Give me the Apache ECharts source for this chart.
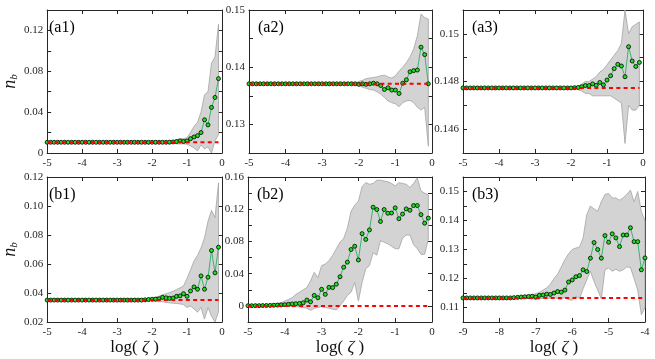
<!DOCTYPE html>
<html>
<head>
<meta charset="utf-8">
<script src="https://cdn.jsdelivr.net/npm/echarts@6/dist/echarts.min.js"></script>
<style>
  html, body { margin: 0; padding: 0; background: #fff; }
  #chart { width: 655px; height: 359px; }
</style>
</head>
<body>
<div id="chart"></div>
<script>
// x positions, log(zeta)
var logZeta = [-5.0, -4.9, -4.8, -4.7, -4.6, -4.5, -4.4, -4.3, -4.2, -4.1,
  -4.0, -3.9, -3.8, -3.7, -3.6, -3.5, -3.4, -3.3, -3.2, -3.1,
  -3.0, -2.9, -2.8, -2.7, -2.6, -2.5, -2.4, -2.3, -2.2, -2.1,
  -2.0, -1.9, -1.8, -1.7, -1.6, -1.5, -1.4, -1.3, -1.2, -1.1,
  -1.0, -0.9, -0.8, -0.7, -0.6, -0.5, -0.4, -0.3, -0.2, -0.1]
var logZetaB3 = [-9.0, -8.9, -8.8, -8.7, -8.6, -8.5, -8.4, -8.3, -8.2, -8.1,
  -8.0, -7.9, -7.8, -7.7, -7.6, -7.5, -7.4, -7.3, -7.2, -7.1,
  -7.0, -6.9, -6.8, -6.7, -6.6, -6.5, -6.4, -6.3, -6.2, -6.1,
  -6.0, -5.9, -5.8, -5.7, -5.6, -5.5, -5.4, -5.3, -5.2, -5.1,
  -5.0, -4.9, -4.8, -4.7, -4.6, -4.5, -4.4, -4.3, -4.2, -4.1, -4.0]

// (a1)
var a1Base = 0.0105
var a1Mean = [0.0105, 0.0105, 0.0105, 0.0105, 0.0105, 0.0105, 0.0105, 0.0105, 0.0105, 0.0105,
  0.0105, 0.0105, 0.0105, 0.0105, 0.0105, 0.0105, 0.0105, 0.0105, 0.0105, 0.0105,
  0.0105, 0.0105, 0.0105, 0.0105, 0.0105, 0.0105, 0.0105, 0.0105, 0.0105, 0.0105,
  0.0105, 0.0105, 0.0105, 0.0105, 0.0105, 0.0106, 0.0108, 0.0112, 0.0118, 0.0113,
  0.0118, 0.0140, 0.0157, 0.0170, 0.0200, 0.0325, 0.0275, 0.0446, 0.0544, 0.0728]
var a1Upper = [0.0105, 0.0105, 0.0105, 0.0105, 0.0105, 0.0105, 0.0105, 0.0105, 0.0105, 0.0105,
  0.0105, 0.0105, 0.0105, 0.0105, 0.0105, 0.0105, 0.0105, 0.0105, 0.0105, 0.0105,
  0.0105, 0.0105, 0.0105, 0.0105, 0.0105, 0.0105, 0.0105, 0.0105, 0.0105, 0.0105,
  0.0105, 0.0105, 0.0105, 0.0105, 0.0108, 0.0112, 0.0120, 0.0130, 0.0140, 0.0140,
  0.0150, 0.0200, 0.0260, 0.0300, 0.0400, 0.0570, 0.0600, 0.0880, 0.0940, 0.1260]
var a1Lower = [0.0105, 0.0105, 0.0105, 0.0105, 0.0105, 0.0105, 0.0105, 0.0105, 0.0105, 0.0105,
  0.0105, 0.0105, 0.0105, 0.0105, 0.0105, 0.0105, 0.0105, 0.0105, 0.0105, 0.0105,
  0.0105, 0.0105, 0.0105, 0.0105, 0.0105, 0.0105, 0.0105, 0.0105, 0.0105, 0.0105,
  0.0105, 0.0105, 0.0105, 0.0105, 0.0102, 0.0098, 0.0095, 0.0090, 0.0088, 0.0090,
  0.0085, 0.0070, 0.0050, 0.0020, 0.0080, 0.0040, 0.0060, 0.0000, 0.0120, 0.0180]

// (a2)
var a2Base = 0.1371
var a2Mean = [0.1371, 0.1371, 0.1371, 0.1371, 0.1371, 0.1371, 0.1371, 0.1371, 0.1371, 0.1371,
  0.1371, 0.1371, 0.1371, 0.1371, 0.1371, 0.1371, 0.1371, 0.1371, 0.1371, 0.1371,
  0.1371, 0.1371, 0.1371, 0.1371, 0.1371, 0.1371, 0.1371, 0.1371, 0.1371, 0.1371,
  0.1370, 0.1371, 0.1370, 0.1371, 0.1372, 0.1371, 0.1368, 0.1361, 0.1364, 0.1360,
  0.1360, 0.1354, 0.1372, 0.1378, 0.1392, 0.1394, 0.1395, 0.1435, 0.1422, 0.1371]
var a2Upper = [0.1371, 0.1371, 0.1371, 0.1371, 0.1371, 0.1371, 0.1371, 0.1371, 0.1371, 0.1371,
  0.1371, 0.1371, 0.1371, 0.1371, 0.1371, 0.1371, 0.1371, 0.1371, 0.1371, 0.1371,
  0.1371, 0.1371, 0.1371, 0.1371, 0.1371, 0.1371, 0.1371, 0.1371, 0.1371, 0.1372,
  0.1375, 0.1377, 0.1380, 0.1381, 0.1382, 0.1383, 0.1385, 0.1386, 0.1383, 0.1381,
  0.1385, 0.1393, 0.1400, 0.1408, 0.1418, 0.1432, 0.1455, 0.1493, 0.1487, 0.1484]
var a2Lower = [0.1371, 0.1371, 0.1371, 0.1371, 0.1371, 0.1371, 0.1371, 0.1371, 0.1371, 0.1371,
  0.1371, 0.1371, 0.1371, 0.1371, 0.1371, 0.1371, 0.1371, 0.1371, 0.1371, 0.1371,
  0.1371, 0.1371, 0.1371, 0.1371, 0.1371, 0.1371, 0.1371, 0.1371, 0.1371, 0.1370,
  0.1368, 0.1365, 0.1363, 0.1361, 0.1360, 0.1357, 0.1353, 0.1347, 0.1341, 0.1338,
  0.1336, 0.1331, 0.1338, 0.1341, 0.1342, 0.1338, 0.1330, 0.1325, 0.1330, 0.1262]

// (a3)
var a3Base = 0.14773
var a3Mean = [0.14773, 0.14773, 0.14773, 0.14773, 0.14773, 0.14773, 0.14773, 0.14773, 0.14773, 0.14773,
  0.14773, 0.14773, 0.14773, 0.14773, 0.14773, 0.14773, 0.14773, 0.14773, 0.14773, 0.14773,
  0.14773, 0.14773, 0.14773, 0.14773, 0.14773, 0.14773, 0.14773, 0.14773, 0.14773, 0.14773,
  0.14773, 0.14774, 0.14775, 0.14778, 0.14783, 0.14783, 0.14790, 0.14784, 0.14796, 0.14786,
  0.14806, 0.14824, 0.14854, 0.14872, 0.14865, 0.14820, 0.14946, 0.14886, 0.14863, 0.14880]
var a3Upper = [0.14773, 0.14773, 0.14773, 0.14773, 0.14773, 0.14773, 0.14773, 0.14773, 0.14773, 0.14773,
  0.14773, 0.14773, 0.14773, 0.14773, 0.14773, 0.14773, 0.14773, 0.14773, 0.14773, 0.14773,
  0.14773, 0.14773, 0.14773, 0.14773, 0.14773, 0.14773, 0.14773, 0.14773, 0.14773, 0.14773,
  0.14773, 0.14776, 0.14780, 0.14790, 0.14800, 0.14800, 0.14810, 0.14820, 0.14840, 0.14850,
  0.14870, 0.14890, 0.14910, 0.14930, 0.14960, 0.15100, 0.15000, 0.15030, 0.15040, 0.15050]
var a3Lower = [0.14773, 0.14773, 0.14773, 0.14773, 0.14773, 0.14773, 0.14773, 0.14773, 0.14773, 0.14773,
  0.14773, 0.14773, 0.14773, 0.14773, 0.14773, 0.14773, 0.14773, 0.14773, 0.14773, 0.14773,
  0.14773, 0.14773, 0.14773, 0.14773, 0.14773, 0.14773, 0.14773, 0.14773, 0.14773, 0.14773,
  0.14773, 0.14770, 0.14765, 0.14760, 0.14750, 0.14750, 0.14740, 0.14740, 0.14740, 0.14740,
  0.14740, 0.14740, 0.14730, 0.14720, 0.14710, 0.14540, 0.14700, 0.14680, 0.14680, 0.14700]

// (b1)
var b1Base = 0.0351
var b1Mean = [0.0351, 0.0351, 0.0351, 0.0351, 0.0351, 0.0351, 0.0351, 0.0351, 0.0351, 0.0351,
  0.0351, 0.0351, 0.0351, 0.0351, 0.0351, 0.0351, 0.0351, 0.0351, 0.0351, 0.0351,
  0.0351, 0.0351, 0.0351, 0.0351, 0.0351, 0.0351, 0.0351, 0.0351, 0.0353, 0.0355,
  0.0357, 0.0358, 0.0360, 0.0370, 0.0367, 0.0363, 0.0365, 0.0377, 0.0380, 0.0395,
  0.0377, 0.0414, 0.0442, 0.0426, 0.0518, 0.0426, 0.0509, 0.0693, 0.0539, 0.0716]
var b1Upper = [0.0351, 0.0351, 0.0351, 0.0351, 0.0351, 0.0351, 0.0351, 0.0351, 0.0351, 0.0351,
  0.0351, 0.0351, 0.0351, 0.0351, 0.0351, 0.0351, 0.0351, 0.0351, 0.0351, 0.0351,
  0.0351, 0.0351, 0.0351, 0.0351, 0.0351, 0.0351, 0.0351, 0.0353, 0.0356, 0.0360,
  0.0365, 0.0370, 0.0378, 0.0388, 0.0395, 0.0403, 0.0412, 0.0425, 0.0435, 0.0450,
  0.0500, 0.0560, 0.0620, 0.0660, 0.0710, 0.0780, 0.0895, 0.0970, 0.0920, 0.1160]
var b1Lower = [0.0351, 0.0351, 0.0351, 0.0351, 0.0351, 0.0351, 0.0351, 0.0351, 0.0351, 0.0351,
  0.0351, 0.0351, 0.0351, 0.0351, 0.0351, 0.0351, 0.0351, 0.0351, 0.0351, 0.0351,
  0.0351, 0.0351, 0.0351, 0.0351, 0.0351, 0.0351, 0.0351, 0.0349, 0.0347, 0.0346,
  0.0345, 0.0342, 0.0340, 0.0340, 0.0335, 0.0332, 0.0330, 0.0328, 0.0325, 0.0320,
  0.0300, 0.0310, 0.0290, 0.0268, 0.0300, 0.0220, 0.0300, 0.0240, 0.0200, 0.0270]

// (b2)
var b2Base = 0
var b2Mean = [0.0002, 0.0002, 0.0003, 0.0003, 0.0004, 0.0005, 0.0006, 0.0008, 0.0010, 0.0012,
  0.0015, 0.0020, 0.0025, 0.0027, 0.0030, 0.0038, 0.0072, 0.0050, 0.0130, 0.0101,
  0.0206, 0.0143, 0.0230, 0.0227, 0.0269, 0.0362, 0.0480, 0.0543, 0.0700, 0.0740,
  0.0570, 0.0897, 0.0825, 0.0943, 0.1225, 0.1196, 0.1048, 0.1196, 0.1150, 0.1153,
  0.1217, 0.1082, 0.1140, 0.1204, 0.1187, 0.1246, 0.1246, 0.1133, 0.1027, 0.1090]
var b2Upper = [0.0005, 0.0006, 0.0008, 0.0010, 0.0012, 0.0015, 0.0020, 0.0025, 0.0030, 0.0040,
  0.0060, 0.0080, 0.0100, 0.0143, 0.0170, 0.0200, 0.0227, 0.0310, 0.0417, 0.0350,
  0.0500, 0.0520, 0.0560, 0.0627, 0.0710, 0.0790, 0.0838, 0.0964, 0.1175, 0.1250,
  0.1300, 0.1480, 0.1530, 0.1510, 0.1520, 0.1560, 0.1560, 0.1550, 0.1540, 0.1520,
  0.1490, 0.1530, 0.1520, 0.1510, 0.1470, 0.1520, 0.1590, 0.1427, 0.1400, 0.1377]
var b2Lower = [0.0000, 0.0000, -0.0001, -0.0001, -0.0002, -0.0002, -0.0003, -0.0004, -0.0004, -0.0005,
  -0.0006, -0.0008, -0.0010, -0.0010, -0.0015, -0.0020, -0.0030, -0.0055, -0.0030, -0.0020,
  -0.0010, -0.0020, -0.0030, -0.0040, -0.0050, 0.0000, 0.0060, 0.0130, 0.0170, 0.0290,
  0.0060, 0.0290, 0.0460, 0.0500, 0.0660, 0.0630, 0.0810, 0.0790, 0.0770, 0.0740,
  0.0710, 0.0710, 0.0840, 0.0880, 0.0880, 0.0760, 0.0710, 0.0640, 0.0640, 0.0830]

// (b3)
var b3Base = 0.1133
var b3Mean = [0.1133, 0.1133, 0.1133, 0.1133, 0.1133, 0.1133, 0.1133, 0.1133, 0.1133, 0.1133,
  0.1133, 0.1133, 0.1133, 0.1133, 0.1134, 0.1135, 0.1136, 0.1137, 0.1138, 0.1139,
  0.1136, 0.1142, 0.1143, 0.1146, 0.1145, 0.1150, 0.1155, 0.1153, 0.1160, 0.1188,
  0.1195, 0.1206, 0.1210, 0.1230, 0.1224, 0.1270, 0.1324, 0.1300, 0.1270, 0.1348,
  0.1325, 0.1354, 0.1340, 0.1310, 0.1350, 0.1350, 0.1375, 0.1327, 0.1327, 0.1230, 0.1271]
var b3Upper = [0.1133, 0.1133, 0.1133, 0.1133, 0.1133, 0.1133, 0.1133, 0.1133, 0.1133, 0.1133,
  0.1133, 0.1133, 0.1133, 0.1133, 0.1134, 0.1135, 0.1136, 0.1138, 0.1140, 0.1143,
  0.1148, 0.1152, 0.1160, 0.1168, 0.1180, 0.1200, 0.1215, 0.1240, 0.1265, 0.1285,
  0.1300, 0.1305, 0.1308, 0.1340, 0.1420, 0.1450, 0.1440, 0.1432, 0.1465, 0.1490,
  0.1493, 0.1478, 0.1478, 0.1470, 0.1478, 0.1490, 0.1505, 0.1465, 0.1500, 0.1430, 0.1400]
var b3Lower = [0.1133, 0.1133, 0.1133, 0.1133, 0.1133, 0.1133, 0.1133, 0.1133, 0.1133, 0.1133,
  0.1133, 0.1133, 0.1133, 0.1133, 0.1133, 0.1133, 0.1132, 0.1131, 0.1130, 0.1130,
  0.1128, 0.1130, 0.1132, 0.1131, 0.1133, 0.1135, 0.1130, 0.1128, 0.1135, 0.1128,
  0.1125, 0.1140, 0.1130, 0.1165, 0.1195, 0.1225, 0.1190, 0.1160, 0.1130, 0.1230,
  0.1236, 0.1225, 0.1232, 0.1225, 0.1230, 0.1240, 0.1238, 0.1200, 0.1160, 0.1075, 0.1100]

// tick labels
var xTicksA = ['-5', '-4', '-3', '-2', '-1', '0']
var xTicksB3 = ['-9', '-8', '-7', '-6', '-5', '-4']
var a1YTicks = ['0', '0.04', '0.08', '0.12']
var a2YTicks = ['0.13', '0.14', '0.15']
var a3YTicks = ['0.146', '0.148', '0.15']
var b1YTicks = ['0.02', '0.04', '0.06', '0.08', '0.10', '0.12']
var b2YTicks = ['0', '0.04', '0.08', '0.12', '0.16']
var b3YTicks = ['0.11', '0.12', '0.13', '0.14', '0.15']

var SERIF = '"Liberation Serif", "DejaVu Serif", serif'
var AXIS_COLOR = '#262626'

var panels = [
  { tag: '(a1)', box: [40, 10, 182, 143], x: logZeta, xr: [-5, 0], xt: xTicksA, yr: [0, 0.14, 0.02], yt: a1YTicks,
    mean: a1Mean, up: a1Upper, lo: a1Lower, base: a1Base, yName: true, xName: false },
  { tag: '(a2)', box: [249, 10, 183, 143], x: logZeta, xr: [-5, 0], xt: xTicksA, yr: [0.125, 0.15, 0.005], yt: a2YTicks,
    mean: a2Mean, up: a2Upper, lo: a2Lower, base: a2Base, yName: false, xName: false },
  { tag: '(a3)', box: [463, 10, 180, 143], x: logZeta, xr: [-5, 0], xt: xTicksA, yr: [0.145, 0.151, 0.001], yt: a3YTicks,
    mean: a3Mean, up: a3Upper, lo: a3Lower, base: a3Base, yName: false, xName: false },
  { tag: '(b1)', box: [40, 177, 182, 145], x: logZeta, xr: [-5, 0], xt: xTicksA, yr: [0.02, 0.12, 0.02], yt: b1YTicks,
    mean: b1Mean, up: b1Upper, lo: b1Lower, base: b1Base, yName: true, xName: true },
  { tag: '(b2)', box: [248, 177, 184, 145], x: logZeta, xr: [-5, 0], xt: xTicksA, yr: [-0.02, 0.16, 0.02], yt: b2YTicks,
    mean: b2Mean, up: b2Upper, lo: b2Lower, base: b2Base, yName: false, xName: true },
  { tag: '(b3)', box: [463, 177, 182, 145], x: logZetaB3, xr: [-9, -4], xt: xTicksB3, yr: [0.105, 0.155, 0.005], yt: b3YTicks,
    mean: b3Mean, up: b3Upper, lo: b3Lower, base: b3Base, yName: false, xName: true }
]

function pickLabel(list) {
  return function (v) {
    for (var i = 0; i < list.length; i++) {
      if (Math.abs(parseFloat(list[i]) - v) < 1e-7) return list[i]
    }
    return ''
  }
}

var grids = [], xAxes = [], yAxes = [], series = [], titles = []
var tickStyle = { show: true, inside: true, length: 4, lineStyle: { color: AXIS_COLOR, width: 1 } }
var lineStyle = { show: true, onZero: false, lineStyle: { color: AXIS_COLOR, width: 1 } }

panels.forEach(function (p, i) {
  grids.push({ left: p.box[0], top: p.box[1], width: p.box[2], height: p.box[3] })
  titles.push({
    text: p.tag, left: p.box[0] + 9, top: p.box[1] + 10, padding: 0,
    textStyle: { fontFamily: SERIF, fontSize: 16, fontWeight: 'normal', color: '#000' }
  })
  var xBottom = {
    type: 'value', gridIndex: i, position: 'bottom', min: p.xr[0], max: p.xr[1], interval: 1,
    axisLine: lineStyle, axisTick: tickStyle, splitLine: { show: false },
    axisLabel: { color: AXIS_COLOR, fontFamily: SERIF, fontSize: 11, margin: 5, formatter: pickLabel(p.xt) }
  }
  if (p.xName) {
    xBottom.name = '{t|log( }{z|ζ}{t| )}'
    xBottom.nameLocation = 'middle'
    xBottom.nameGap = 12
    xBottom.nameTextStyle = {
      rich: {
        t: { fontFamily: SERIF, fontSize: 17, color: '#111' },
        z: { fontFamily: SERIF, fontSize: 17, fontStyle: 'italic', color: '#111' }
      }
    }
  }
  xAxes.push(xBottom)
  xAxes.push({
    type: 'value', gridIndex: i, position: 'top', min: p.xr[0], max: p.xr[1], interval: 1,
    axisLine: lineStyle, axisTick: tickStyle, axisLabel: { show: false }, splitLine: { show: false }
  })
  var yLeft = {
    type: 'value', gridIndex: i, position: 'left', min: p.yr[0], max: p.yr[1], interval: p.yr[2],
    axisLine: lineStyle, axisTick: tickStyle, splitLine: { show: false },
    axisLabel: { color: AXIS_COLOR, fontFamily: SERIF, fontSize: 11, margin: 4, interval: 0,
      showMinLabel: true, showMaxLabel: true, formatter: pickLabel(p.yt) }
  }
  if (p.yName) {
    yLeft.name = '{n|n}{b|b}'
    yLeft.nameLocation = 'middle'
    yLeft.nameRotate = 90
    yLeft.nameGap = 25
    yLeft.nameTextStyle = {
      rich: {
        n: { fontFamily: SERIF, fontSize: 18, fontStyle: 'italic', color: '#111', lineHeight: 20 },
        b: { fontFamily: SERIF, fontSize: 11, fontStyle: 'italic', color: '#111', verticalAlign: 'bottom', lineHeight: 11 }
      }
    }
  }
  yAxes.push(yLeft)
  yAxes.push({
    type: 'value', gridIndex: i, position: 'right', min: p.yr[0], max: p.yr[1], interval: p.yr[2],
    axisLine: lineStyle, axisTick: tickStyle, axisLabel: { show: false }, splitLine: { show: false }
  })

  var xs = p.x, up = p.up, lo = p.lo
  series.push({
    type: 'custom', xAxisIndex: i * 2, yAxisIndex: i * 2, z: 1, silent: true,
    data: [[xs[0], lo[0]]],
    renderItem: function (params, api) {
      var pts = []
      for (var k = 0; k < xs.length; k++) pts.push(api.coord([xs[k], up[k]]))
      for (var k = xs.length - 1; k >= 0; k--) pts.push(api.coord([xs[k], lo[k]]))
      return {
        type: 'polygon',
        shape: { points: echarts.graphic.clipPointsByRect(pts, params.coordSys) },
        style: { fill: '#d3d3d3', stroke: '#a3a3a3', lineWidth: 0.8 }
      }
    }
  })
  var pts = xs.map(function (x, k) { return [x, p.mean[k]] })
  series.push({
    type: 'line', xAxisIndex: i * 2, yAxisIndex: i * 2, z: 2, data: pts,
    showSymbol: false, lineStyle: { color: '#3cb371', width: 1 }
  })
  series.push({
    type: 'scatter', xAxisIndex: i * 2, yAxisIndex: i * 2, z: 3, data: pts,
    symbol: 'circle', symbolSize: 4,
    itemStyle: { color: '#1ee01e', borderColor: '#000', borderWidth: 0.8, opacity: 1 }
  })
  series.push({
    type: 'line', xAxisIndex: i * 2, yAxisIndex: i * 2, z: 4,
    data: xs.map(function (x) { return [x, p.base] }),
    showSymbol: false, lineStyle: { color: '#ff0000', width: 2, type: [4, 3.3] }
  })
})

var chart = echarts.init(document.getElementById('chart'))
chart.setOption({
  animation: false,
  backgroundColor: '#fff',
  title: titles,
  grid: grids,
  xAxis: xAxes,
  yAxis: yAxes,
  series: series
})
</script>
</body>
</html>
